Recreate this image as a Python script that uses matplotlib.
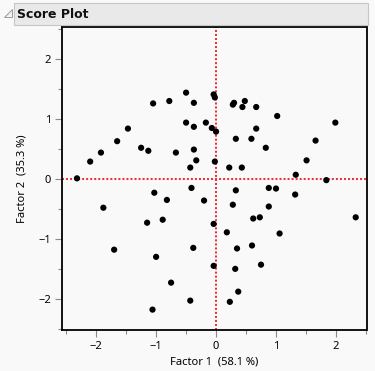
import matplotlib
matplotlib.use('Agg')
import matplotlib.pyplot as plt
from matplotlib.patches import Rectangle, Polygon

# factor scores
f1 = [-2.32, -2.10, -1.92, -1.65, -1.47, -1.25, -1.13, -1.05, -0.78, -0.67,
      -0.50, -0.37, -0.50, -0.37, -0.37, -0.33, -0.43, -0.17, -0.07, 0.00,
      -0.04, -0.02, -0.02, 0.28, 0.30, 0.48, 0.44, 0.67, 1.02, 1.99,
      0.67, 0.33, 0.59, 0.83, 1.66, 1.51, 0.22, 0.43, 1.33, 1.84,
      -0.41, -1.03, -0.82, -0.20, -1.88, -0.89, -1.15, -0.04, -0.38, -1.70,
      -1.00, -0.04, -0.75, -0.43, -1.06, 0.23, 0.37, 0.33, 0.88, 1.00,
      1.32, 0.28, 0.88, 0.62, 0.73, 2.33, 0.18, 1.06, 0.60, 0.35,
      0.75, 0.32]
f2 = [0.01, 0.29, 0.44, 0.63, 0.84, 0.52, 0.47, 1.26, 1.30, 0.44,
      1.44, 1.27, 0.94, 0.87, 0.49, 0.31, 0.19, 0.94, 0.85, 0.79,
      1.41, 1.36, 0.29, 1.24, 1.27, 1.30, 1.20, 1.20, 1.05, 0.94,
      0.84, 0.67, 0.67, 0.52, 0.64, 0.31, 0.19, 0.19, 0.07, -0.02,
      -0.15, -0.23, -0.35, -0.36, -0.48, -0.68, -0.73, -0.75, -1.15, -1.18,
      -1.30, -1.45, -1.73, -2.03, -2.18, -2.05, -1.88, -0.19, -0.15, -0.16,
      -0.26, -0.43, -0.46, -0.66, -0.64, -0.64, -0.89, -0.91, -1.11, -1.16,
      -1.43, -1.50]

xlabel = 'Factor 1  (58.1 %)'
ylabel = 'Factor 2  (35.3 %)'
title = 'Score Plot'

plt.rcParams['font.family'] = ['Noto Sans', 'DejaVu Sans']

W, H = 375, 371
fig = plt.figure(figsize=(W / 100, H / 100), dpi=100, facecolor='#f9f9f9')

# header bar
fig.patches.append(Rectangle((14 / W, 1 - 25 / H), 354 / W, 22 / H, transform=fig.transFigure,
                             facecolor='#e9e9e9', edgecolor='#c6c6c6', lw=0.8))
fig.patches.append(Polygon([(4 / W, 1 - 17 / H), (12 / W, 1 - 17 / H), (12 / W, 1 - 9 / H)],
                           closed=True, transform=fig.transFigure,
                           facecolor='#f4f4f4', edgecolor='#9a9a9a', lw=0.7))
fig.text(17 / W, 1 - 14.5 / H, title, fontsize=9, fontweight='bold', family='DejaVu Sans',
         va='center', ha='left', color='#111111')

ax = fig.add_axes([62 / W, 1 - 330 / H, 304.5 / W, 302.7 / H])
ax.set_facecolor('#f9f9f9')

ax.axvline(0, color='#e8323c', lw=1.45, ls=(0, (1, 1)), zorder=1)
ax.axhline(0, color='#e8323c', lw=1.45, ls=(0, (1, 1)), zorder=1)
ax.scatter(f1, f2, s=20, color='black', edgecolors='none', zorder=3)

ax.set_xlim(-2.57, 2.51)
ax.set_ylim(-2.52, 2.53)
ax.set_xticks([-2, -1, 0, 1, 2])
ax.set_yticks([-2, -1, 0, 1, 2])
ax.set_xticks([-2.5, -1.5, -0.5, 0.5, 1.5, 2.5], minor=True)
ax.set_yticks([-2.5, -1.5, -0.5, 0.5, 1.5, 2.5], minor=True)
ax.tick_params(which='major', length=5, width=0.8, color='#8a8a8a', labelsize=8, pad=3)
ax.tick_params(which='minor', length=3, width=0.8, color='#8a8a8a')
for s in ax.spines.values():
    s.set_linewidth(1.3)
    s.set_color('black')

ax.set_xlabel(xlabel, fontsize=8, labelpad=3)
ax.set_ylabel(ylabel, fontsize=8, labelpad=8)

fig.savefig('out.png', dpi=100, facecolor=fig.get_facecolor())
